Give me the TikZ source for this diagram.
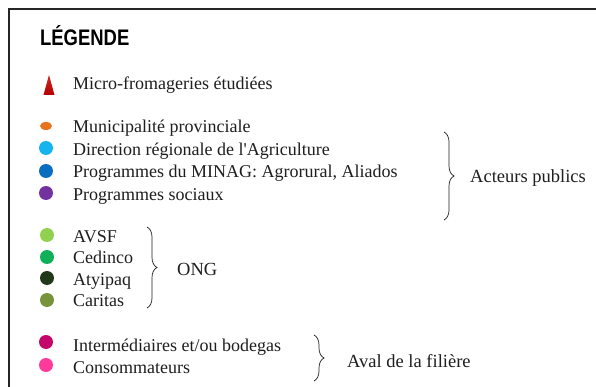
\documentclass[tikz,border=0pt]{standalone}
\usepackage{fontspec}
\setmainfont{Liberation Serif}[Ligatures=TeXOff]
\newfontfamily\titlefont{Liberation Sans}
\usetikzlibrary{decorations.pathreplacing,shapes.geometric}
\definecolor{cOrange}{HTML}{E8731E}
\definecolor{cLightBlue}{HTML}{16B4EE}
\definecolor{cBlue}{HTML}{0A6EC0}
\definecolor{cPurple}{HTML}{7232A0}
\definecolor{cAVSF}{HTML}{92D050}
\definecolor{cCedinco}{HTML}{10B058}
\definecolor{cAtyipaq}{HTML}{22381A}
\definecolor{cCaritas}{HTML}{77933C}
\definecolor{cInter}{HTML}{C4066A}
\definecolor{cConso}{HTML}{FF3A9C}
\definecolor{cRed}{HTML}{C00000}
\definecolor{cText}{HTML}{1E1E1E}
\begin{document}
\begin{tikzpicture}[x=1pt,y=-1pt,
  lbl/.style={anchor=base west,inner sep=0pt,text=cText,font=\fontsize{18}{20}\selectfont},
  grp/.style={anchor=base west,inner sep=0pt,text=cText,font=\fontsize{18.5}{20}\selectfont},
  dot/.style={circle,inner sep=0pt,minimum size=14pt},
  bracebar/.style={draw=cText,line width=0.7pt,decorate,decoration={brace,amplitude=10pt}}]
\useasboundingbox (0,0) rectangle (596,387);
\fill[white] (0,0) rectangle (596,387);
% frame
\draw[line width=1.5pt,draw=black!85] (596,9) -- (9,9) -- (9,387);
% title
\node[anchor=base west,inner sep=0pt,font=\titlefont\bfseries\fontsize{22.5}{24}\selectfont,xscale=0.82] (title) at (40,45.5) {LÉGENDE};
% triangle
\shade[top color=cRed!85,bottom color=cRed!95!black] (43.5,95) -- (49,75) -- (54.5,95) -- cycle;
\node[lbl] (t0) at (73,90) {Micro-fromageries étudiées};
% public actors
\node[ellipse,fill=cOrange,inner sep=0pt,minimum width=12pt,minimum height=8pt] (d1) at (46,126) {};
\node[dot,fill=cLightBlue] (d2) at (46,148) {};
\node[dot,fill=cBlue] (d3) at (46,171) {};
\node[dot,fill=cPurple] (d4) at (46,193) {};
\node[lbl] (t1) at (73,133) {Municipalité provinciale};
\node[lbl] (t2) at (73,155.5) {Direction régionale de l'Agriculture};
\node[lbl] (t3) at (73,178) {Programmes du MINAG: Agrorural, Aliados};
\node[lbl] (t4) at (73,200.5) {Programmes sociaux};
\coordinate (b1a) at (444,132);
\coordinate (b1b) at (444,220);
\draw[bracebar] (b1a) -- (b1b);
\node[grp] (g1) at (470,183) {Acteurs publics};
% ONG
\node[dot,fill=cAVSF] (d5) at (47,235) {};
\node[dot,fill=cCedinco] (d6) at (47,257) {};
\node[dot,fill=cAtyipaq] (d7) at (47,278) {};
\node[dot,fill=cCaritas] (d8) at (47,300) {};
\node[lbl] (t5) at (73,242) {AVSF};
\node[lbl] (t6) at (73,263.5) {Cedinco};
\node[lbl] (t7) at (73,285) {Atyipaq};
\node[lbl] (t8) at (73,306.5) {Caritas};
\coordinate (b2a) at (147,227);
\coordinate (b2b) at (147,308);
\draw[bracebar] (b2a) -- (b2b);
\node[grp] (g2) at (177,275) {ONG};
% aval
\node[dot,fill=cInter] (d9) at (46,342) {};
\node[dot,fill=cConso] (d10) at (46,365) {};
\node[lbl] (t9) at (73,351) {Intermédiaires et/ou bodegas};
\node[lbl] (t10) at (73,373) {Consommateurs};
\coordinate (b3a) at (314,335);
\coordinate (b3b) at (314,381);
\draw[bracebar] (b3a) -- (b3b);
\node[grp] (g3) at (347,367) {Aval de la filière};
\end{tikzpicture}
\end{document}
